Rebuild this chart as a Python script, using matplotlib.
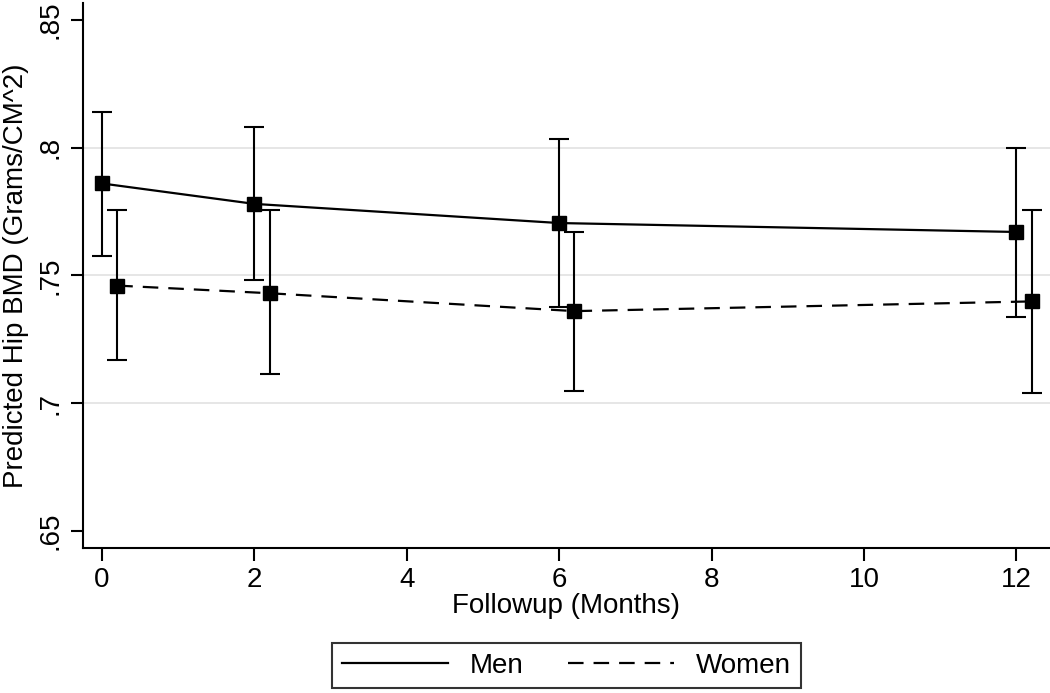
import numpy as np
import matplotlib.pyplot as plt

plt.rcParams['font.family'] = ['Liberation Sans', 'DejaVu Sans']

months = [0, 2, 6, 12]
women_offset = 0.2

men_bmd = [0.786, 0.778, 0.7705, 0.767]
men_lo = [0.7575, 0.748, 0.7378, 0.7336]
men_hi = [0.814, 0.808, 0.8035, 0.800]

women_bmd = [0.746, 0.743, 0.736, 0.7398]
women_lo = [0.7169, 0.7114, 0.7047, 0.7038]
women_hi = [0.7756, 0.7756, 0.767, 0.7757]

y_ticks = [0.65, 0.7, 0.75, 0.8, 0.85]
y_tick_labels = ['.65', '.7', '.75', '.8', '.85']
x_ticks = [0, 2, 4, 6, 8, 10, 12]


def main():
    fig = plt.figure(figsize=(10.5, 6.93), dpi=100)
    ax = fig.add_axes([0.079, 0.2092, 0.921, 0.7865])

    xm = np.array(months, dtype=float)
    xw = xm + women_offset
    men = np.array(men_bmd)
    women = np.array(women_bmd)

    for y in [0.7, 0.75, 0.8]:
        ax.axhline(y, color='#e4e4e4', lw=1.3, zorder=0)

    ax.errorbar(xm, men, yerr=[men - np.array(men_lo), np.array(men_hi) - men],
                fmt='none', ecolor='black', elinewidth=1.5, capsize=7.5,
                capthick=1.5, zorder=2)
    ax.errorbar(xw, women, yerr=[women - np.array(women_lo), np.array(women_hi) - women],
                fmt='none', ecolor='black', elinewidth=1.5, capsize=7.5,
                capthick=1.5, zorder=2)

    ax.plot(xm, men, color='black', lw=1.6, ls='-', label='Men', zorder=3)
    ax.plot(xw, women, color='black', lw=1.6, ls=(0, (7, 4.5)), label='Women', zorder=3)
    ax.plot(xm, men, 's', color='black', ms=10.5, zorder=4)
    ax.plot(xw, women, 's', color='black', ms=10.5, zorder=4)

    ax.set_xlim(-0.25, 12.44)
    ax.set_ylim(0.6432, 0.8567)
    ax.set_yticks(y_ticks)
    ax.set_yticklabels(y_tick_labels, rotation=90, va='center')
    ax.set_xticks(x_ticks)

    for side in ['top', 'right']:
        ax.spines[side].set_visible(False)
    for side in ['left', 'bottom']:
        ax.spines[side].set_linewidth(1.5)
    ax.tick_params(axis='both', labelsize=20, width=1.5, length=9, pad=5)

    ax.set_xlabel('Followup (Months)', fontsize=20, labelpad=0)
    ax.set_ylabel('Predicted Hip BMD (Grams/CM^2)', fontsize=20, labelpad=6)

    leg = ax.legend(loc='center', bbox_to_anchor=(0.5, -0.2156), ncol=2,
                    fontsize=20, frameon=True, fancybox=False,
                    handlelength=3.8, columnspacing=1.6, handletextpad=0.8,
                    borderpad=0.35)
    leg.get_frame().set_edgecolor('black')
    leg.get_frame().set_linewidth(1.5)

    plt.savefig('out.png', dpi=100)


if __name__ == '__main__':
    main()
